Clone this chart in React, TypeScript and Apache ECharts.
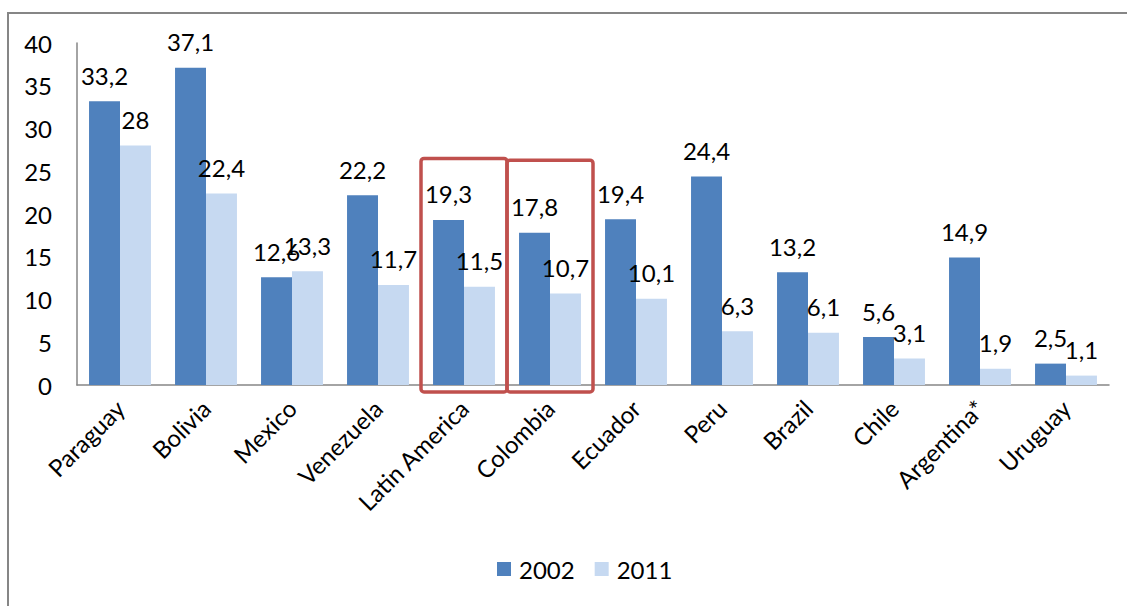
import React, { useEffect, useRef } from "react";
import * as echarts from "echarts";

const countries = [
  "Paraguay",
  "Bolivia",
  "Mexico",
  "Venezuela",
  "Latin America",
  "Colombia",
  "Ecuador",
  "Peru",
  "Brazil",
  "Chile",
  "Argentina*",
  "Uruguay",
];
const values2002 = [33.2, 37.1, 12.6, 22.2, 19.3, 17.8, 19.4, 24.4, 13.2, 5.6, 14.9, 2.5];
const values2011 = [28, 22.4, 13.3, 11.7, 11.5, 10.7, 10.1, 6.3, 6.1, 3.1, 1.9, 1.1];
const yTicks = [0, 5, 10, 15, 20, 25, 30, 35, 40];
// Highlighted categories and the value reached by the top of their frame
const highlighted: [string, number][] = [
  ["Latin America", 26.5],
  ["Colombia", 26.3],
];

const FONT = "Lato, 'Open Sans', sans-serif";
const FONT_SIZE = 24;
const fmt = (v: number) => String(v).replace(".", ",");

export default function App() {
  const ref = useRef<HTMLDivElement>(null);

  useEffect(() => {
    if (!ref.current) return;
    const chart = echarts.init(ref.current, null, { renderer: "svg" });
    const labelStyle = {
      show: true,
      position: "top" as const,
      distance: 14,
      color: "#000",
      fontFamily: FONT,
      fontSize: FONT_SIZE,
      formatter: (p: any) => fmt(p.value),
    };
    chart.setOption({
      animation: false,
      backgroundColor: "#fff",
      graphic: [
        {
          type: "rect",
          shape: { x: 8, y: 13, width: 1300, height: 800 },
          style: { fill: "none", stroke: "#868686", lineWidth: 2 },
          silent: true,
        },
      ],
      grid: { left: 77, right: 18, top: 43, bottom: 221, containLabel: false },
      legend: {
        data: ["2002", "2011"],
        bottom: 20,
        left: 492,
        itemWidth: 14,
        itemHeight: 14,
        itemGap: 20,
        icon: "rect",
        textStyle: {
          fontFamily: FONT,
          fontSize: FONT_SIZE,
          color: "#000",
          padding: [0, 0, 0, 3],
        },
      },
      xAxis: {
        type: "category",
        data: countries,
        axisLine: { show: true, lineStyle: { color: "#868686", width: 1.5 } },
        axisTick: { show: false },
        axisLabel: {
          interval: 0,
          rotate: 45,
          margin: 19,
          color: "#000",
          fontFamily: FONT,
          fontSize: FONT_SIZE,
        },
      },
      yAxis: {
        type: "value",
        min: yTicks[0],
        max: yTicks[yTicks.length - 1],
        interval: 5,
        splitLine: { show: false },
        axisLine: { show: true, lineStyle: { color: "#868686", width: 1.5 } },
        axisTick: { show: false },
        axisLabel: {
          margin: 25,
          color: "#000",
          fontFamily: FONT,
          fontSize: FONT_SIZE,
        },
      },
      series: [
        {
          name: "2002",
          type: "bar",
          data: values2002,
          barGap: "0%",
          barCategoryGap: "28%",
          itemStyle: { color: "#4F81BD" },
          label: labelStyle,
        },
        {
          name: "2011",
          type: "bar",
          data: values2011,
          itemStyle: { color: "#C6D9F1" },
          label: labelStyle,
        },
        {
          name: "highlight",
          type: "custom",
          clip: false,
          z: 10,
          data: highlighted.map(([c, v]) => [countries.indexOf(c), v]),
          renderItem: (params: any, api: any) => {
            const idx = api.value(0);
            const top = api.coord([idx, api.value(1)]);
            const base = api.coord([idx, 0]);
            const band = api.size([1, 0])[0];
            const x0 = top[0] - band / 2;
            return {
              type: "rect",
              shape: {
                x: x0,
                y: top[1],
                width: band,
                height: base[1] - top[1] + 7,
                r: 3,
              },
              style: { fill: "none", stroke: "#C0504D", lineWidth: 3.5 },
            };
          },
        },
      ],
    });
    return () => chart.dispose();
  }, []);

  return (
    <div
      ref={ref}
      style={{ position: "fixed", left: 0, top: 0, width: 1127, height: 606 }}
    />
  );
}
